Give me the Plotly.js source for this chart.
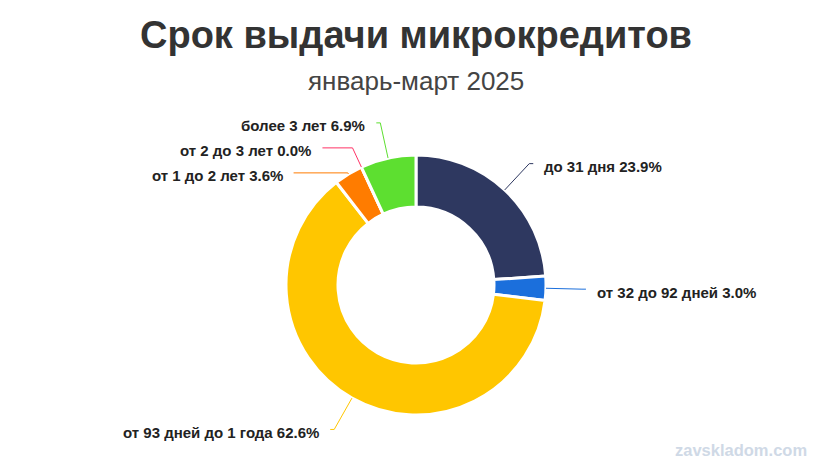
<!DOCTYPE html>
<html>
<head>
<meta charset="utf-8">
<script src="https://cdn.plot.ly/plotly-3.0.1.min.js"></script>
<style>html,body{margin:0;padding:0;background:#fff;}#chart{width:816px;height:460px;}</style>
</head>
<body>
<div id="chart"></div>
<script>
// ---- data ----
const categories = ['до 31 дня', 'от 32 до 92 дней', 'от 93 дней до 1 года', 'от 1 до 2 лет', 'от 2 до 3 лет', 'более 3 лет'];
const shares = [23.9, 3.0, 62.6, 3.6, 0.0, 6.9];
const sliceColors = ['#2e3860', '#1b6fdc', '#ffc600', '#ff7c00', '#ff3366', '#5ddf30'];
const titleText = 'Срок выдачи микрокредитов';
const subtitleText = 'январь-март 2025';
const watermarkText = 'zavskladom.com';

// ---- layout geometry ----
const W = 816, H = 460;
const M = {l: 16, r: 0, t: 155, b: 45};
const PW = W - M.l - M.r, PH = H - M.t - M.b;
const cx = M.l + PW / 2, cy = M.t + PH / 2;
const R = Math.min(PW, PH) / 2;
const r1 = R + 36;     // label line first segment end radius
const GAP = 25;        // minimal vertical distance between labels
const TEXT_DY = 3;     // visual text offset below the line
const px2x = x => (x - M.l) / PW;
const px2y = y => (H - M.b - y) / PH;

const total = shares.reduce((a, b) => a + b, 0);
let cum = 0;
const items = shares.map((v, i) => {
  const mid = (cum + v / 2) / total * 2 * Math.PI;
  cum += v;
  const s = Math.sin(mid), c = Math.cos(mid);
  return {
    i, mid, s, c,
    side: s >= 0 ? 1 : -1,
    px: cx + R * s, py: cy - R * c,
    ny: cy - r1 * c
  };
});

// simple overlap avoidance per side (push downwards)
[1, -1].forEach(side => {
  const list = items.filter(d => d.side === side).sort((a, b) => a.ny - b.ny);
  let last = -Infinity;
  list.forEach(d => {
    d.y = Math.max(d.ny, last + GAP);
    last = d.y;
  });
});

const annotations = [];
const shapes = [];
items.forEach(d => {
  let ex, ey = d.y;
  if (Math.abs(d.y - d.ny) < 0.01 || Math.abs(d.c) < 0.1) {
    ex = cx + r1 * d.s;
  } else {
    const r = (cy - ey) / d.c;
    ex = cx + r * d.s;
  }
  const dy = ey - cy;
  const circleX = cx + d.side * Math.sqrt(Math.max(0, r1 * r1 - dy * dy));
  const lx = d.side > 0 ? Math.max(circleX, ex + 4) : Math.min(circleX, ex - 4);
  shapes.push({
    type: 'path', xref: 'paper', yref: 'paper', layer: 'above',
    path: `M ${px2x(d.px)} ${px2y(d.py)} L ${px2x(ex)} ${px2y(ey)} L ${px2x(lx)} ${px2y(ey)}`,
    line: {color: sliceColors[d.i], width: 1}
  });
  annotations.push({
    xref: 'paper', yref: 'paper',
    x: px2x(lx + d.side * 9), y: px2y(ey + TEXT_DY),
    xanchor: d.side > 0 ? 'left' : 'right', yanchor: 'middle',
    text: categories[d.i] + ' ' + shares[d.i].toFixed(1) + '%',
    showarrow: false,
    font: {family: 'Liberation Sans, Arial, sans-serif', size: 15, color: '#222', weight: 700}
  });
});

annotations.push({
  xref: 'paper', yref: 'paper', x: px2x(416), y: px2y(81),
  xanchor: 'center', yanchor: 'middle', showarrow: false,
  text: subtitleText,
  font: {family: 'Liberation Sans, Arial, sans-serif', size: 26, color: '#444'}
});
annotations.push({
  xref: 'paper', yref: 'paper', x: px2x(809), y: px2y(450),
  xanchor: 'right', yanchor: 'middle', showarrow: false,
  text: watermarkText,
  font: {family: 'Liberation Sans, Arial, sans-serif', size: 16.5, color: '#cfd9e6', weight: 700}
});

const trace = {
  type: 'pie',
  labels: categories,
  values: shares,
  sort: false,
  direction: 'clockwise',
  rotation: 0,
  hole: 0.6,
  textinfo: 'none',
  hoverinfo: 'label+percent',
  marker: {colors: sliceColors, line: {color: '#ffffff', width: 3}},
  showlegend: false
};

const layout = {
  width: W, height: H,
  margin: M,
  paper_bgcolor: '#ffffff',
  title: {
    text: titleText,
    xref: 'paper', x: 0.5, xanchor: 'center',
    yref: 'container', y: 1 - 35 / H, yanchor: 'middle',
    font: {family: 'Liberation Sans, Arial, sans-serif', size: 38, color: '#333', weight: 700}
  },
  annotations, shapes,
  showlegend: false
};

Plotly.newPlot('chart', [trace], layout, {displayModeBar: false, staticPlot: true});
</script>
</body>
</html>
